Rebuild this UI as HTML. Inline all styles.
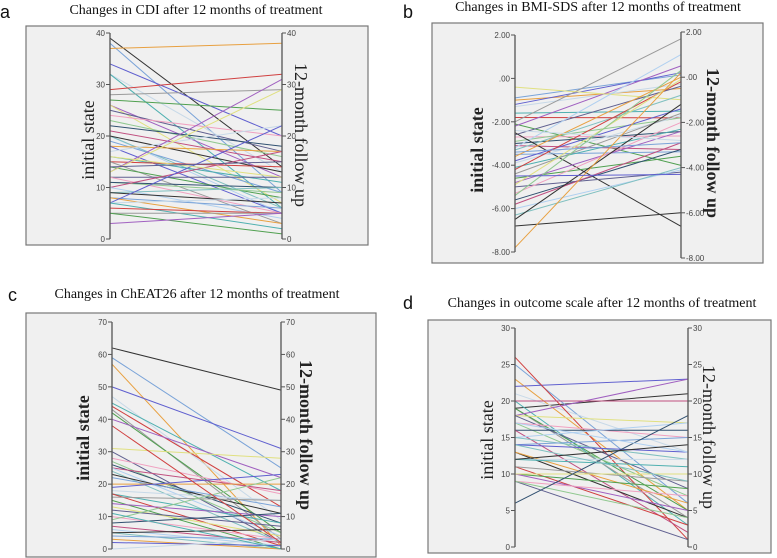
<!DOCTYPE html>
<html><head><meta charset="utf-8"><style>
html,body{margin:0;padding:0;background:#fff;width:777px;height:558px;overflow:hidden}
svg{display:block}
.t{font-family:"Liberation Serif",serif;font-size:14px;fill:#111}
.lab{font-family:"Liberation Sans",sans-serif;font-size:18px;fill:#111}
.tk{font-family:"Liberation Sans",sans-serif;font-size:8px;fill:#444}
.ax{font-family:"Liberation Serif",serif;font-size:18px;fill:#222}
</style></head><body>
<svg id="c" width="777" height="558" xmlns="http://www.w3.org/2000/svg"></svg>
<script>
const cdiInitial=[39,38,37,34,32,32,29,28,27,26,26,25,24,23,22,21,20,20,20,19,18,18,17,16,15,15,14,13,13,12,12,11,11,10,10,9,9,8,8,7,7,7,6,5,5,3,16,14];
const cdiFollow=[14,9,38,20,13,6,32,29,25,12,7,17,20,16,18,15,5,6,13,9,17,5,22,11,14,3,8,31,29,12,5,9,10,17,4,10,7,6,3,22,8,2,5,5,1,5,12,15];
const bmiInitial=[-6.8,-0.9,-1.0,-1.2,-1.3,-1.6,-1.8,-2.0,-2.1,-2.2,-0.4,-2.6,-2.7,-2.9,-3.0,-3.1,-3.2,-3.3,-2.5,-3.5,-3.6,-3.8,-3.9,-4.1,-4.2,-4.4,-4.6,-4.8,-4.9,-5.0,-5.3,-5.4,-5.6,-5.8,-6.0,-6.3,-6.5,-3.4,-7.8,-4.5,-2.4];
const bmiFollow=[-6.0,0.1,-0.5,0.2,-0.3,-1.5,-1.8,1.7,-3.9,0.5,-1.0,-0.4,-2.6,-1.8,-2.4,-3.2,1.0,-0.8,-6.6,-3.3,0.0,-1.4,-1.7,-2.3,-0.2,-1.6,-3.5,-2.4,-0.1,-4.2,-2.0,0.3,-3.2,-2.9,-4.1,-4.0,-1.2,-2.9,0.2,-4.3,-2.8];
const eatInitial=[62,59,57,50,47,45,44,43,42,40,31,30,28,27,26,25,25,24,23,22,20,19,18,17,17,16,15,14,13,12,10,9,8,7,6,5,5,4,3,2,0,11,38];
const eatFollow=[49,25,1,31,9,18,13,3,5,22,28,2,17,5,8,18,4,2,11,13,20,23,15,8,1,15,0,10,4,7,3,22,11,2,1,0,6,3,0,1,3,0,2];
const outInitial=[19,25,23,22,21,20,26,19,19,18,18,18,17,17,16,16,15,15,13,14,13,14,12,12,11,11,10,10,10,9,9,9,6,20,17,14,12];
const outFollow=[21,6,5,23,13,3,1,4,5,23,17,8,15,7,16,2,17,12,4,15,6,13,12,11,3,9,8,5,10,1,7,4,18,20,13,9,14];
const cdiTicks=["0","10","20","30","40"];
const bmiTicks=["-8.00","-6.00","-4.00","-2.00",".00","2.00"];
const eatTicks=["0","10","20","30","40","50","60","70"];
const outTicks=["0","5","10","15","20","25","30"];
const palette=["#333333","#7aa3d8","#e8a040","#5f5fcf","#c7d9e8","#4fb0b0","#d04040","#9a9a9a","#50a050","#a060c0","#e0e080","#606090","#f0a0c0","#90c890","#305070","#c05080","#b0d0f0","#80c0c0"];
const svg=document.getElementById('c');
const NS="http://www.w3.org/2000/svg";
function mk(tag,attrs,parent){const e=document.createElementNS(NS,tag);for(const k in attrs)e.setAttribute(k,attrs[k]);(parent||svg).appendChild(e);return e;}
function panel(p){
  const g=mk('g',{});
  
  
  const fr=mk('rect',{x:p.fx,y:p.fy,width:p.fw,height:p.fh,fill:'#f0f0f0',stroke:'#777','stroke-width':1.2},g);
  
  
  const ti=mk('text',{x:p.tx,y:p.ty,'text-anchor':'middle',class:'t'},g);ti.textContent=p.title;
  
  
  const la=mk('text',{x:p.lx,y:p.ly,class:'lab'},g);la.textContent=p.letter;
  
  
  const yl=v=>p.l0+(v-p.min)/(p.max-p.min)*(p.l1-p.l0);
  const yr=v=>p.r0+(v-p.min)/(p.max-p.min)*(p.r1-p.r0);
  for(let i=0;i<p.a.length;i++){
    const ln=mk('line',{x1:p.xl,y1:yl(p.a[i]),x2:p.xr,y2:yr(p.b[i]),stroke:palette[i%palette.length],'stroke-width':1},g);
    
    
  }
  const n=p.ticks.length;
  for(let i=0;i<n;i++){
    const v=p.min+i*(p.max-p.min)/(n-1);
    mk('line',{x1:p.xl-4,y1:yl(v),x2:p.xl,y2:yl(v),stroke:'#555'},g);
    mk('line',{x1:p.xr,y1:yr(v),x2:p.xr+4,y2:yr(v),stroke:'#555'},g);
    const t1=mk('text',{x:p.xl-5,y:yl(v)+3,'text-anchor':'end',class:'tk'},g);t1.textContent=p.ticks[i];
    
    
    const t2=mk('text',{x:p.xr+5,y:yr(v)+3,class:'tk'},g);t2.textContent=p.ticks[i];
    
    
  }
  const a1=mk('line',{x1:p.xl,y1:p.l0,x2:p.xl,y2:p.l1,stroke:'#555','stroke-width':1.3},g);
  
  
  const a2=mk('line',{x1:p.xr,y1:p.r0,x2:p.xr,y2:p.r1,stroke:'#555','stroke-width':1.3},g);
  
  
  const wt=p.bold?'bold':'normal';
  const y1=mk('text',{x:0,y:0,'text-anchor':'middle',class:'ax','font-weight':wt,transform:`translate(${p.alx},${p.aly}) rotate(-90)`},g);y1.textContent='initial state';
  
  
  const y2=mk('text',{x:0,y:0,'text-anchor':'middle',class:'ax','font-weight':wt,transform:`translate(${p.arx},${p.ary}) rotate(90)`},g);y2.textContent='12-month follow up';
  
  
}
panel({id:'cdi',a:cdiInitial,b:cdiFollow,ticks:cdiTicks,min:0,max:40,fx:26,fy:26,fw:342,fh:219,tx:196,ty:14,title:'Changes in CDI after 12 months of treatment',letter:'a',lx:0,ly:18,xl:110,xr:282,l0:239,l1:33,r0:239,r1:33,alx:94,aly:140,arx:295,ary:135,bold:false});
panel({id:'bmi',a:bmiInitial,b:bmiFollow,ticks:bmiTicks,min:-8,max:2,fx:432,fy:23,fw:331,fh:240,tx:598,ty:11,title:'Changes in BMI-SDS after 12 months of treatment',letter:'b',lx:403,ly:18,xl:515,xr:681,l0:252,l1:35,r0:258,r1:32,alx:483,aly:150,arx:707,ary:143,bold:true});
panel({id:'eat',a:eatInitial,b:eatFollow,ticks:eatTicks,min:0,max:70,fx:26,fy:313,fw:350,fh:244,tx:197,ty:298,title:'Changes in ChEAT26 after 12 months of treatment',letter:'c',lx:8,ly:301,xl:112,xr:281,l0:549,l1:322,r0:549,r1:322,alx:89,aly:438,arx:300,ary:435,bold:true});
panel({id:'out',a:outInitial,b:outFollow,ticks:outTicks,min:0,max:30,fx:428,fy:320,fw:343,fh:233,tx:602,ty:307,title:'Changes in outcome scale after 12 months of treatment',letter:'d',lx:403,ly:309,xl:515,xr:688,l0:547,l1:328,r0:547,r1:328,alx:493,aly:440,arx:703,ary:437,bold:false});
</script>
</body></html>
